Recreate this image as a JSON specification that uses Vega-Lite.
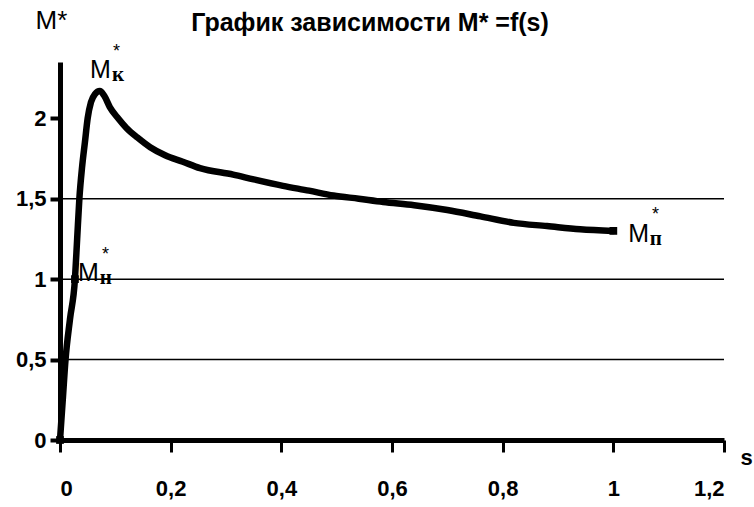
{
  "$schema": "https://vega.github.io/schema/vega-lite/v6.json",
  "width": 664,
  "height": 378,
  "autosize": {"type": "none"},
  "padding": {"left": 60, "top": 62, "right": 30, "bottom": 67},
  "background": "white",
  "config": {"view": {"stroke": null}},
  "title": {
    "text": "График зависимости M* =f(s)",
    "font": "Liberation Sans, Arial",
    "fontSize": 25,
    "fontWeight": "bold",
    "color": "black",
    "anchor": "middle",
    "baseline": "alphabetic",
    "dx": -22,
    "offset": -49
  },
  "datasets": {
    "curve": [
      {"s": 0, "m": 0}, {"s": 0.005, "m": 0.25}, {"s": 0.01, "m": 0.5}, {"s": 0.018, "m": 0.75},
      {"s": 0.027, "m": 1.0}, {"s": 0.031, "m": 1.25}, {"s": 0.035, "m": 1.5}, {"s": 0.04, "m": 1.7},
      {"s": 0.045, "m": 1.85}, {"s": 0.05, "m": 2.0}, {"s": 0.056, "m": 2.1}, {"s": 0.063, "m": 2.15},
      {"s": 0.072, "m": 2.17}, {"s": 0.08, "m": 2.14}, {"s": 0.09, "m": 2.07}, {"s": 0.105, "m": 2.0},
      {"s": 0.12, "m": 1.94}, {"s": 0.14, "m": 1.88}, {"s": 0.163, "m": 1.82}, {"s": 0.19, "m": 1.77},
      {"s": 0.222, "m": 1.73}, {"s": 0.253, "m": 1.69}, {"s": 0.313, "m": 1.65}, {"s": 0.35, "m": 1.62},
      {"s": 0.403, "m": 1.58}, {"s": 0.45, "m": 1.55}, {"s": 0.494, "m": 1.52}, {"s": 0.54, "m": 1.5},
      {"s": 0.584, "m": 1.48}, {"s": 0.64, "m": 1.46}, {"s": 0.7, "m": 1.43}, {"s": 0.76, "m": 1.39},
      {"s": 0.82, "m": 1.35}, {"s": 0.88, "m": 1.33}, {"s": 0.94, "m": 1.31}, {"s": 1.0, "m": 1.3}
    ],
    "pts": [
      {"s": 0, "m": 0}, {"s": 0.027, "m": 1.0}, {"s": 1.0, "m": 1.3}
    ],
    "grid": [{"m": 0.5}, {"m": 1.0}, {"m": 1.5}],
    "labM": [
      {"s": 0.054, "m": 2.25, "t": "M"},
      {"s": 0.0325, "m": 0.99, "t": "M"},
      {"s": 1.027, "m": 1.23, "t": "M"}
    ],
    "labSub": [
      {"s": 0.094, "m": 2.23, "t": "к"},
      {"s": 0.072, "m": 0.97, "t": "н"},
      {"s": 1.066, "m": 1.21, "t": "п"}
    ],
    "labSup": [
      {"s": 0.096, "m": 2.38, "t": "*"},
      {"s": 0.076, "m": 1.12, "t": "*"},
      {"s": 1.07, "m": 1.37, "t": "*"}
    ]
  },
  "layer": [
    {
      "data": {"name": "grid"},
      "mark": {"type": "rule", "color": "black", "strokeWidth": 1.5},
      "encoding": {
        "y": {"field": "m", "type": "quantitative", "scale": {"domain": [0, 2.35], "nice": false}}
      }
    },
    {
      "data": {"name": "curve"},
      "mark": {"type": "line", "color": "black", "strokeWidth": 6.5, "interpolate": "monotone", "strokeJoin": "round", "strokeCap": "round"},
      "encoding": {
        "x": {
          "field": "s", "type": "quantitative",
          "scale": {"domain": [0, 1.2], "nice": false},
          "axis": {
            "values": [0, 0.2, 0.4, 0.6, 0.8, 1, 1.2],
            "labelExpr": "replace(format(datum.value, '~g'), '.', ',')",
            "grid": false,
            "domainColor": "black", "domainWidth": 5,
            "tickColor": "black", "tickSize": 12, "tickWidth": 3,
            "labelFont": "Liberation Sans, Arial",
            "labelFontSize": 22, "labelFontWeight": "bold", "labelColor": "black",
            "labelPadding": 26,
            "title": "s",
            "titleFont": "Liberation Sans, Arial",
            "titleFontSize": 22, "titleFontWeight": "bold", "titleColor": "black",
            "titleX": 680, "titleY": 24, "titleAlign": "left", "titleBaseline": "alphabetic"
          }
        },
        "y": {
          "field": "m", "type": "quantitative",
          "scale": {"domain": [0, 2.35], "nice": false},
          "axis": {
            "values": [0, 0.5, 1, 1.5, 2],
            "labelExpr": "replace(format(datum.value, '~g'), '.', ',')",
            "grid": false,
            "domainColor": "black", "domainWidth": 5,
            "tickColor": "black", "tickSize": 10, "tickWidth": 4,
            "labelFont": "Liberation Sans, Arial",
            "labelFontSize": 22, "labelFontWeight": "bold", "labelColor": "black",
            "labelPadding": 4,
            "title": "M*",
            "titleFont": "Liberation Sans, Arial",
            "titleFontSize": 26, "titleFontWeight": "normal", "titleColor": "black",
            "titleAngle": 0, "titleX": -25, "titleY": -34, "titleAlign": "left", "titleBaseline": "alphabetic"
          }
        }
      }
    },
    {
      "data": {"name": "pts"},
      "mark": {"type": "point", "shape": "square", "filled": true, "color": "black", "size": 60, "opacity": 1},
      "encoding": {
        "x": {"field": "s", "type": "quantitative"},
        "y": {"field": "m", "type": "quantitative"}
      }
    },
    {
      "data": {"name": "labM"},
      "mark": {"type": "text", "align": "left", "baseline": "alphabetic", "font": "Liberation Sans, Arial", "fontSize": 25, "color": "black"},
      "encoding": {
        "x": {"field": "s", "type": "quantitative"},
        "y": {"field": "m", "type": "quantitative"},
        "text": {"field": "t"}
      }
    },
    {
      "data": {"name": "labSub"},
      "mark": {"type": "text", "align": "left", "baseline": "alphabetic", "font": "Liberation Serif, DejaVu Serif", "fontSize": 21, "fontWeight": "bold", "color": "black"},
      "encoding": {
        "x": {"field": "s", "type": "quantitative"},
        "y": {"field": "m", "type": "quantitative"},
        "text": {"field": "t"}
      }
    },
    {
      "data": {"name": "labSup"},
      "mark": {"type": "text", "align": "left", "baseline": "alphabetic", "font": "Liberation Sans, Arial", "fontSize": 18, "color": "black"},
      "encoding": {
        "x": {"field": "s", "type": "quantitative"},
        "y": {"field": "m", "type": "quantitative"},
        "text": {"field": "t"}
      }
    }
  ]
}
